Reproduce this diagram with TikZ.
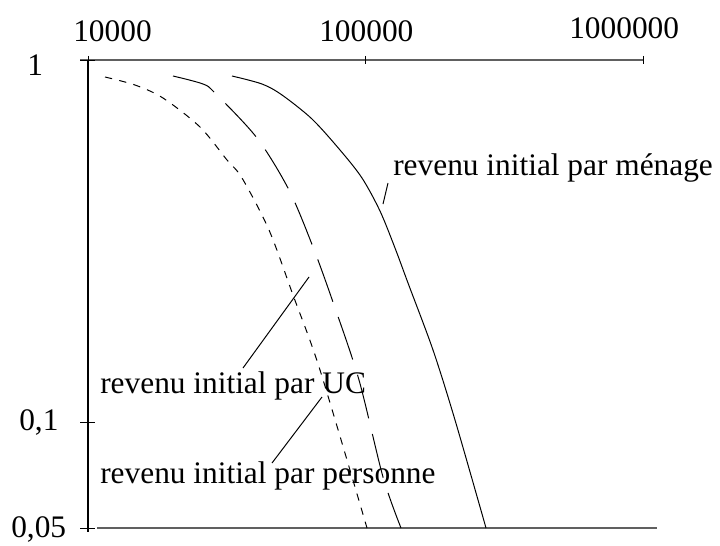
\documentclass[tikz,border=0pt]{standalone}
\usepackage{fontspec}
\setmainfont{Liberation Serif}
\usepackage{tikz}
\usetikzlibrary{calc}
\tikzset{>=latex}

\begin{document}
\begin{tikzpicture}[x=0.025cm, y=-0.025cm, line join=round,
    lbl/.style={font=\fontsize{22.3}{26}\selectfont, inner sep=0pt, anchor=base west},
    axe/.style={gray!75!black, line width=1.1pt},
    courbe/.style={line width=0.7pt}]
    \useasboundingbox (0,0) rectangle (720,545);
    % axes
    \draw[axe] (80,60) -- (643,60);
    \draw[axe] (97,528) -- (657,528);
    \draw[line width=0.75pt] (88,60) -- (88,532);
    \foreach \x in {88,365,643} \draw[line width=0.7pt] (\x,56) -- (\x,64);
    \foreach \y in {60,422,528} \draw[line width=0.7pt] (80,\y) -- (95,\y);
    % graduations
    \node[lbl] (x1) at (73,42) {10000};
    \node[lbl] (x2) at (319,42) {100000};
    \node[lbl] (x3) at (569,38) {1000000};
    \node[lbl] (y1) at (27,75) {1};
    \node[lbl] (y2) at (19,430) {0,1};
    \node[lbl] (y3) at (11,537) {0,05};
    % courbes
    \draw[courbe] plot[smooth, tension=0.5] coordinates {(232,76) (262,84) (282,95) (312,119) (340,150) (362,178) (380,211) (395,248) (408,283) (433,350) (455,420) (486,528)};
    \draw[courbe, dash pattern=on 32pt off 11.4pt] plot[smooth, tension=0.5] coordinates {(173,76) (203,84) (215,93) (257,138) (289,190) (313,247) (334,305) (359,380) (383,477) (401,528)};
    \draw[courbe, dash pattern=on 5.2pt off 5.2pt] plot[smooth, tension=0.5] coordinates {(105,77) (135,85) (163,98) (200,127) (227,160) (242,178) (269,230) (293,295) (320,370) (367,528)};
    % legendes
    \node[lbl] (menage) at (393,175) {revenu initial par ménage};
    \node[lbl] (uc) at (100,393) {revenu initial par UC};
    \node[lbl] (personne) at (100,483) {revenu initial par personne};
    \coordinate (m1) at (383,204);
    \coordinate (m2) at (388,183);
    \coordinate (u1) at (309,277);
    \coordinate (u2) at (243,368);
    \coordinate (p1) at (322,397);
    \coordinate (p2) at (272,463);
    \draw[courbe] (m1) -- (m2);
    \draw[courbe] (u1) -- (u2);
    \draw[courbe] (p1) -- (p2);
\end{tikzpicture}
\end{document}
